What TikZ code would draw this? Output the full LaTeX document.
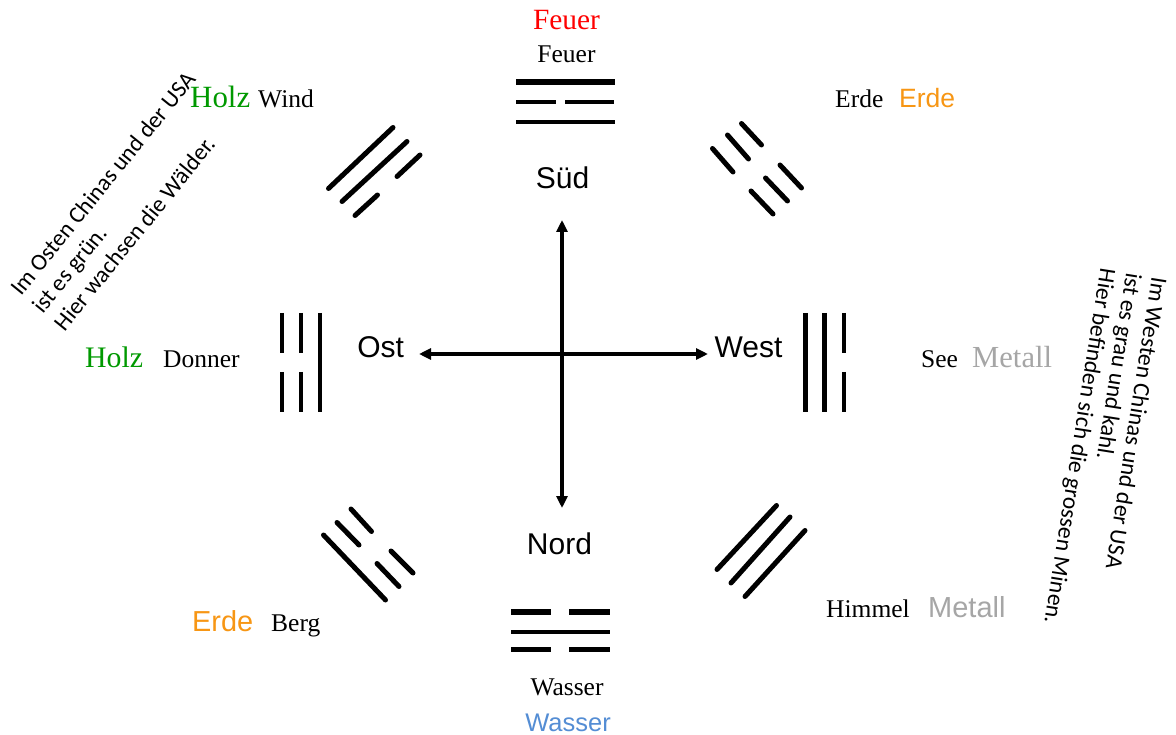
\documentclass[tikz,border=0pt]{standalone}
\usepackage{fontspec}
\setmainfont{Liberation Serif}
\newfontfamily\sansf{Liberation Sans}
\newfontfamily\calib{Carlito}
\usetikzlibrary{arrows.meta}
\definecolor{elred}{RGB}{255,0,0}
\definecolor{elgreen}{RGB}{0,153,0}
\definecolor{elorange}{RGB}{247,150,20}
\definecolor{elgray}{RGB}{166,166,166}
\definecolor{elblue}{RGB}{84,141,212}
\tikzset{
  lbl/.style={font=\fontsize{25.5}{30}\selectfont, inner sep=0pt},
  elemserif/.style={font=\fontsize{#1}{#1}\selectfont, inner sep=0pt},
  elemserif/.default=30,
  elemsans/.style={font=\sansf\fontsize{#1}{#1}\selectfont, inner sep=0pt},
  elemsans/.default=28,
  dirlbl/.style={font=\sansf\fontsize{30}{34}\selectfont, inner sep=0pt, anchor=base},
  note/.style={font=\calib\fontsize{23.5}{27}\selectfont, inner sep=0pt, anchor=base west},
  tri/.style={line width=4.8pt},
  tridiag/.style={line width=5pt, line cap=round},
  arr/.style={line width=3.2pt, -{Triangle[length=12pt,width=11pt]}}
}
\begin{document}
\begin{tikzpicture}[x=1pt,y=-1pt]
\useasboundingbox (0,0) rectangle (1176,735);

% compass cross
\coordinate (C) at (562,354);
\coordinate (tipS) at (562,220);
\coordinate (tipN) at (562,508);
\coordinate (tipO) at (419,354);
\coordinate (tipW) at (708,354);
\draw[arr] (C) -- (tipS);
\draw[arr] (C) -- (tipN);
\draw[arr] (C) -- (tipO);
\draw[arr] (C) -- (tipW);

\node[dirlbl] (sued) at (562.5,189) {Süd};
\node[dirlbl] (ost) at (380.7,358) {Ost};
\node[dirlbl] (west) at (748.5,358) {West};
\node[dirlbl] (nord) at (559.5,554) {Nord};

% top trigram (Feuer)
\draw[tri, line width=5.5pt] (516,82) -- (615,82);
\draw[tri] (516,102) -- (556,102) (565,102) -- (614,102);
\draw[tri] (516,122) -- (615,122);

% bottom trigram (Wasser)
\draw[tri, line width=5.3pt] (511,612) -- (551,612) (569,612) -- (610,612);
\draw[tri] (511,632) -- (610,632);
\draw[tri] (511,649.5) -- (551,649.5) (569,649.5) -- (610,649.5);

% left trigram (Donner)
\draw[tri] (282,313) -- (282,353) (282,372) -- (282,412);
\draw[tri] (301,313) -- (301,353) (301,372) -- (301,412);
\draw[tri] (320,313) -- (320,412);

% right trigram (See)
\draw[tri] (805.5,313) -- (805.5,412);
\draw[tri] (824.5,313) -- (824.5,412);
\draw[tri] (844,313) -- (844,353) (844,372) -- (844,412);

% top-left trigram (Wind)
\draw[tridiag] (328.5,188.5) -- (393,127.5);
\draw[tridiag] (342,201.5) -- (407,141.5);
\draw[tridiag] (355,215.5) -- (377.5,195) (397,176.5) -- (420,155);

% top-right trigram (Erde)
\draw[tridiag] (741.5,123.5) -- (761.5,145) (780,165) -- (801.5,188);
\draw[tridiag] (727.5,135) -- (748.5,159) (765.5,178) -- (787.5,201);
\draw[tridiag] (712.5,148.5) -- (733,172) (751,191) -- (773,214);

% bottom-left trigram (Berg)
\draw[tridiag] (323.5,535) -- (385.5,600);
\draw[tridiag] (337,522.5) -- (359,545) (377,563.5) -- (399,586.5);
\draw[tridiag] (351,509) -- (371.5,531.5) (391,551) -- (413,573);

% bottom-right trigram (Himmel)
\draw[tridiag] (717,569.5) -- (776.5,505.5);
\draw[tridiag] (731,583) -- (790,517);
\draw[tridiag] (745,596.5) -- (805,530.5);

% labels
\node[elemserif=29.4, text=elred, anchor=base] (feuerE) at (566.5,30) {Feuer};
\node[lbl, anchor=base] (feuer) at (566.5,63) {Feuer};

\node[elemserif=30.9, text=elgreen, anchor=base west] (holzA) at (190,108) {Holz};
\node[lbl, anchor=base west] (wind) at (258,108) {Wind};

\node[lbl, anchor=base west] (erdeT) at (835,108) {Erde};
\node[elemsans=26.5, text=elorange, anchor=base west] (erdeTE) at (899,108) {Erde};

\node[elemserif=29.8, text=elgreen, anchor=base west] (holzB) at (85,367) {Holz};
\node[lbl, anchor=base west] (donner) at (163,368) {Donner};

\node[lbl, anchor=base west] (see) at (921,367) {See};
\node[elemserif=30.6, text=elgray, anchor=base west] (metallA) at (972,367) {Metall};

\node[elemsans=28.9, text=elorange, anchor=base west] (erdeBE) at (192,631) {Erde};
\node[lbl, anchor=base west] (berg) at (271,631) {Berg};

\node[lbl, anchor=base west] (himmel) at (826,617) {Himmel};
\node[elemsans=29, text=elgray, anchor=base west] (metallB) at (928,617) {Metall};

\node[lbl, anchor=base] (wasser) at (567,695) {Wasser};
\node[elemsans=25.5, text=elblue, anchor=base] (wasserE) at (568,731) {Wasser};

% rotated notes
\node[note, rotate=51] (ostA) at (21,297) {Im Osten Chinas und der USA};
\node[note, rotate=51] (ostB) at (42.8,314.6) {ist es grün.};
\node[note, rotate=51] (ostC) at (64.6,332.2) {Hier wachsen die Wälder.};

\node[note, rotate=-99] (westA) at (1152,276) {Im Westen Chinas und der USA};
\node[note, rotate=-99] (westB) at (1126.3,271.9) {ist es grau und kahl.};
\node[note, rotate=-99] (westC) at (1100.6,267.8) {Hier befinden sich die grossen Minen.};
\end{tikzpicture}
\end{document}
